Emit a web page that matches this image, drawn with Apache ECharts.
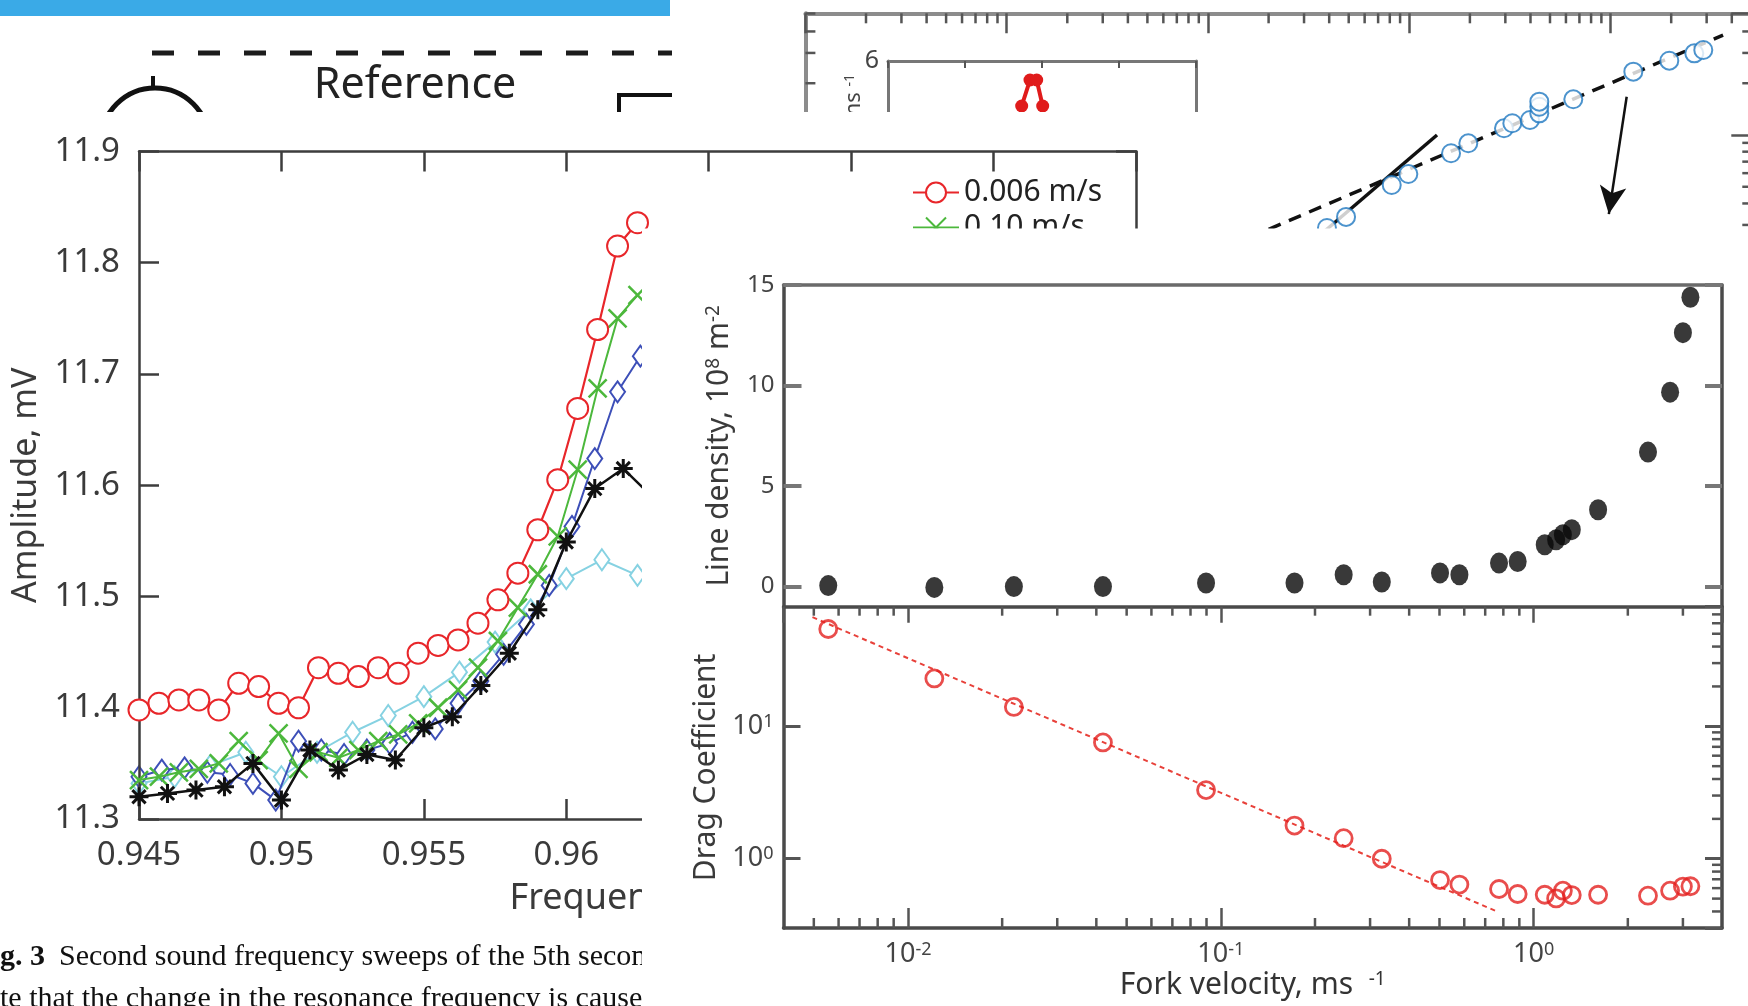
<!DOCTYPE html>
<html>
<head>
<meta charset="utf-8">
<script src="https://cdn.jsdelivr.net/npm/echarts@6/dist/echarts.min.js"></script>
<style>
html,body{margin:0;padding:0;background:#fff;overflow:hidden;}
#c{width:1748px;height:1006px;}
</style>
</head>
<body>
<div id="c"></div>
<script>
// ================= DATA =================
// Amplitude vs frequency panel (5 sweeps)
const freqA = [0.9450,0.9457,0.9464,0.9471,0.9478,0.9485,0.9492,0.9499,0.9506,0.9513,0.9520,0.9527,0.9534,0.9541,0.9548,0.9555,0.9562,0.9569,0.9576,0.9583,0.9590,0.9597,0.9604,0.9611,0.9618,0.9625];
const ampRed = [11.398,11.404,11.407,11.407,11.398,11.422,11.419,11.404,11.400,11.436,11.431,11.428,11.436,11.431,11.449,11.456,11.461,11.476,11.497,11.521,11.560,11.605,11.669,11.740,11.815,11.836];
const ampGreen = [11.335,11.338,11.342,11.345,11.350,11.370,11.353,11.377,11.345,11.360,11.355,11.362,11.370,11.376,11.386,11.400,11.416,11.436,11.460,11.490,11.520,11.554,11.614,11.687,11.750,11.771];
const freqBlue = [0.9450,0.9458,0.9466,0.9474,0.9482,0.9490,0.9498,0.9506,0.9514,0.9522,0.9530,0.9538,0.9546,0.9554,0.9562,0.9570,0.9578,0.9586,0.9594,0.9602,0.9610,0.9618,0.9626];
const ampBlue = [11.338,11.344,11.346,11.342,11.340,11.332,11.317,11.370,11.362,11.358,11.362,11.368,11.378,11.381,11.404,11.424,11.448,11.475,11.510,11.563,11.624,11.684,11.716];
const freqBlack = [0.945,0.946,0.947,0.948,0.949,0.950,0.951,0.952,0.953,0.954,0.955,0.956,0.957,0.958,0.959,0.960,0.961,0.962,0.963];
const ampBlack = [11.320,11.323,11.326,11.329,11.350,11.317,11.362,11.344,11.358,11.353,11.382,11.392,11.420,11.449,11.488,11.549,11.597,11.615,11.590];
const freqCyan = [0.94500,0.94625,0.94750,0.94875,0.95000,0.95125,0.95250,0.95375,0.95500,0.95625,0.95750,0.95875,0.96000,0.96125,0.96250];
const ampCyan = [11.332,11.338,11.348,11.360,11.338,11.360,11.378,11.393,11.410,11.432,11.459,11.488,11.516,11.533,11.519];
const legendNames = ['0.006 m/s','0.10 m/s'];

// Top-right log-log panel
const trVel = [0.390,0.485,0.818,0.989,1.612,1.964,2.954,3.249,3.977,4.424,4.424,4.424,6.527,12.97,19.57,26.05,28.87];
const trVal = [0.288,0.334,0.512,0.593,0.783,0.895,1.094,1.170,1.222,1.337,1.460,1.562,1.613,2.334,2.704,2.985,3.120];
const trDashX = [0.1,36.2];
const trDashY = [0.2,3.81];
const trSolidX = [0.3,1.373];
const trSolidY = [0.218,1.0];
const arrowFrom = [12.02,1.67];
const arrowTo = [9.8,0.347];
const trMinorX = [0.002,0.003,0.004,0.005,0.006,0.007,0.008,0.009,0.02,0.03,0.04,0.05,0.06,0.07,0.08,0.09,0.2,0.3,0.4,0.5,0.6,0.7,0.8,0.9,2,3,4,5,6,7,8,9,20,30,40];
const trMinorY = [0.2,0.3,0.4,0.5,0.6,0.7,0.8,0.9,2,3,4];
// inset
const insetX = [1.736,1.844,1.931,2.009];
const insetY = [5.25,5.683,5.683,5.25];

// Bottom-right panels
const forkVel = [0.00556,0.01214,0.0218,0.042,0.0897,0.172,0.247,0.327,0.502,0.579,0.775,0.889,1.085,1.18,1.24,1.324,1.607,2.32,2.73,3.0,3.17];
const lineDensity = [0.05,-0.04,0.0,0.0,0.18,0.18,0.59,0.23,0.68,0.59,1.17,1.25,2.08,2.33,2.58,2.83,3.82,6.69,9.67,12.63,14.39];
const dragCoef = [54.3,23.0,14.0,7.55,3.30,1.78,1.43,1.0,0.69,0.638,0.591,0.542,0.535,0.502,0.574,0.532,0.535,0.526,0.574,0.616,0.62];
const fitVel = [0.00495,0.754];
const fitDrag = [66.7,0.405];
const shadeRange = [0.004,0.528];
const brMinorX = [0.005,0.006,0.007,0.008,0.009,0.02,0.03,0.04,0.05,0.06,0.07,0.08,0.09,0.2,0.3,0.4,0.5,0.6,0.7,0.8,0.9,2,3];
const brMinorY = [0.4,0.5,0.6,0.7,0.8,0.9,2,3,4,5,6,7,8,9,20,30,40,50,60,70];

// ================= HELPERS =================
const SANS = '"Noto Sans","Open Sans",sans-serif';
const SERIF = '"Liberation Serif","DejaVu Serif",serif';
function pairs(xs, ys){ return xs.map((x,i)=>[x, ys[i]]); }
const starPath = 'path://M5,0L5,10M0,5L10,5M1.5,1.5L8.5,8.5M8.5,1.5L1.5,8.5';
const crossPath = 'path://M0,0L10,10M10,0L0,10';
const noSplit = {show:false};

function tickRenderer(spec){
  return function(params, api){
    const cs = params.coordSys;
    const kind = api.value(2);
    const p = api.coord([api.value(0), api.value(1)]);
    const st = {stroke: spec.color, lineWidth: spec.width};
    const ch = [];
    if (kind === 0){
      if (spec.top) ch.push({type:'line', shape:{x1:p[0], y1:cs.y, x2:p[0], y2:cs.y+spec.top}, style:st});
      if (spec.bottom) ch.push({type:'line', shape:{x1:p[0], y1:cs.y+cs.height, x2:p[0], y2:cs.y+cs.height-spec.bottom}, style:st});
    } else {
      if (spec.left) ch.push({type:'line', shape:{x1:cs.x, y1:p[1], x2:cs.x+spec.left, y2:p[1]}, style:st});
      if (spec.right) ch.push({type:'line', shape:{x1:cs.x+cs.width, y1:p[1], x2:cs.x+cs.width-spec.right, y2:p[1]}, style:st});
    }
    return {type:'group', children: ch};
  };
}
function logSup(v){ return '10{s|' + Math.round(Math.log10(v)) + '}'; }

const mlFrame = '#3d3d3d';
const brFrame = '#4a4a4a';

const chart = echarts.init(document.getElementById('c'), null, {renderer:'canvas', width:1748, height:1006});

const option = {
  backgroundColor:'#ffffff',
  animation:false,
  grid:[
    {left:805.4, top:13.3, width:945.9, height:293.7, zlevel:0, containLabel:false, outerBoundsMode:'none'},
    {left:888, top:61, width:308, height:360, zlevel:0, containLabel:false, outerBoundsMode:'none'},
    {left:139, top:151.5, width:997, height:667.5, zlevel:1, containLabel:false, outerBoundsMode:'none'},
    {left:783.5, top:285, width:938.5, height:321.7, zlevel:2, containLabel:false, outerBoundsMode:'none'},
    {left:783.5, top:606.7, width:938.5, height:321.3, zlevel:2, containLabel:false, outerBoundsMode:'none'}
  ],
  legend:{
    zlevel:1, z:20, data:legendNames, orient:'vertical', left:912, top:175,
    itemWidth:46, itemHeight:25, itemGap:0, padding:0, selectedMode:false,
    textStyle:{fontSize:30, fontFamily:SANS, color:'#222', lineHeight:35}
  },
  xAxis:[
    // 0 top-right top axis
    {gridIndex:0, type:'log', min:0.001, max:50, position:'top', zlevel:0, z:5,
     axisLine:{show:true, onZero:false, lineStyle:{color:'#8c8c8c', width:4}},
     axisTick:{show:true, inside:true, length:20, lineStyle:{color:'#555', width:2.5}},
     axisLabel:{show:false}, splitLine:noSplit},
    // 1 inset top
    {gridIndex:1, type:'value', min:0, max:4, interval:1, position:'top', zlevel:0, z:5,
     axisLine:{show:true, onZero:false, lineStyle:{color:'#777', width:3}},
     axisTick:{show:true, inside:true, length:7, lineStyle:{color:'#555', width:2}},
     axisLabel:{show:false}, splitLine:noSplit},
    // 2 amplitude bottom
    {gridIndex:2, type:'value', min:0.945, max:0.98, interval:0.005, position:'bottom', zlevel:1, z:5,
     name:'Frequency, kHz', nameLocation:'middle', nameGap:62,
     nameTextStyle:{fontSize:36, fontFamily:SANS, color:'#3a3a3a'},
     axisLine:{show:true, onZero:false, lineStyle:{color:mlFrame, width:2.5}},
     axisTick:{show:true, inside:true, length:20, lineStyle:{color:mlFrame, width:2.5}},
     axisLabel:{show:true, fontSize:33, fontFamily:SANS, color:'#3a3a3a', margin:20},
     splitLine:noSplit},
    // 3 amplitude top
    {gridIndex:2, type:'value', min:0.945, max:0.98, interval:0.005, position:'top', zlevel:1, z:5,
     axisLine:{show:true, onZero:false, lineStyle:{color:mlFrame, width:2.5}},
     axisTick:{show:true, inside:true, length:20, lineStyle:{color:mlFrame, width:2.5}},
     axisLabel:{show:false}, splitLine:noSplit},
    // 4 line density bottom (hidden)
    {gridIndex:3, type:'log', min:0.004, max:4, position:'bottom', zlevel:2, z:10,
     axisLine:{show:false, onZero:false}, axisTick:{show:false}, axisLabel:{show:false}, splitLine:noSplit},
    // 5 line density top frame
    {gridIndex:3, type:'log', min:0.004, max:4, position:'top', zlevel:2, z:10,
     axisLine:{show:true, onZero:false, lineStyle:{color:'#6a6a6a', width:3.5}},
     axisTick:{show:false}, axisLabel:{show:false}, splitLine:noSplit},
    // 6 drag bottom
    {gridIndex:4, type:'log', min:0.004, max:4, position:'bottom', zlevel:2, z:10,
     name:'Fork velocity, ms  {s|-1}', nameLocation:'middle', nameGap:42,
     nameTextStyle:{fontSize:30, fontFamily:SANS, color:'#333', rich:{s:{fontSize:19, fontFamily:SANS, color:'#333', verticalAlign:'top'}}},
     axisLine:{show:true, onZero:false, lineStyle:{color:brFrame, width:3.5}},
     axisTick:{show:true, inside:true, length:20, lineStyle:{color:'#555', width:2.5}},
     axisLabel:{show:true, margin:13, fontSize:27, fontFamily:SANS, color:'#444', showMinLabel:false, showMaxLabel:false,
       formatter:logSup, rich:{s:{fontSize:18, fontFamily:SANS, color:'#444', verticalAlign:'top'}}},
     splitLine:noSplit},
    // 7 drag top
    {gridIndex:4, type:'log', min:0.004, max:4, position:'top', zlevel:2, z:10,
     axisLine:{show:true, onZero:false, lineStyle:{color:brFrame, width:3.5}},
     axisTick:{show:true, inside:true, length:16, lineStyle:{color:'#555', width:2.5}},
     axisLabel:{show:false}, splitLine:noSplit}
  ],
  yAxis:[
    // 0 top-right left
    {gridIndex:0, type:'log', min:0.1, max:5.1, position:'left', zlevel:0, z:5,
     axisLine:{show:true, onZero:false, lineStyle:{color:'#8c8c8c', width:4}},
     axisTick:{show:true, inside:true, length:10, lineStyle:{color:'#555', width:2.5}},
     axisLabel:{show:false}, splitLine:noSplit},
    // 1 top-right right
    {gridIndex:0, type:'log', min:0.1, max:5.1, position:'right', zlevel:0, z:5,
     axisLine:{show:true, onZero:false, lineStyle:{color:'#8c8c8c', width:4}},
     axisTick:{show:true, inside:true, length:20, lineStyle:{color:'#555', width:2.5}},
     axisLabel:{show:false}, splitLine:noSplit},
    // 2 inset left
    {gridIndex:1, type:'value', min:0, max:6, interval:2, position:'left', zlevel:0, z:5,
     axisLine:{show:true, onZero:false, lineStyle:{color:'#777', width:3}},
     axisTick:{show:false}, axisLabel:{show:true, fontSize:25, fontFamily:SANS, color:'#444', margin:9},
     splitLine:noSplit},
    // 3 inset right
    {gridIndex:1, type:'value', min:0, max:6, interval:2, position:'right', zlevel:0, z:5,
     axisLine:{show:true, onZero:false, lineStyle:{color:'#777', width:3}},
     axisTick:{show:false}, axisLabel:{show:false}, splitLine:noSplit},
    // 4 amplitude left
    {gridIndex:2, type:'value', min:11.3, max:11.9, interval:0.1, position:'left', zlevel:1, z:5,
     name:'Amplitude, mV', nameLocation:'middle', nameGap:91,
     nameTextStyle:{fontSize:34, fontFamily:SANS, color:'#3a3a3a'},
     axisLine:{show:true, onZero:false, lineStyle:{color:mlFrame, width:2.5}},
     axisTick:{show:true, inside:true, length:20, lineStyle:{color:mlFrame, width:2.5}},
     axisLabel:{show:true, fontSize:33, fontFamily:SANS, color:'#3a3a3a', margin:19},
     splitLine:noSplit},
    // 5 amplitude right
    {gridIndex:2, type:'value', min:11.3, max:11.9, interval:0.1, position:'right', zlevel:1, z:5,
     axisLine:{show:true, onZero:false, lineStyle:{color:mlFrame, width:2.5}},
     axisTick:{show:true, inside:true, length:20, lineStyle:{color:mlFrame, width:2.5}},
     axisLabel:{show:false}, splitLine:noSplit},
    // 6 line density left
    {gridIndex:3, type:'value', min:-1, max:15, splitNumber:3, position:'left', zlevel:2, z:10,
     name:'Line density, 10{s|8} m{s|-2}', nameLocation:'middle', nameGap:49,
     nameTextStyle:{fontSize:30, fontFamily:SANS, color:'#3a3a3a', rich:{s:{fontSize:19, fontFamily:SANS, color:'#3a3a3a', verticalAlign:'top'}}},
     axisLine:{show:true, onZero:false, lineStyle:{color:brFrame, width:3.5}},
     axisTick:{show:true, inside:true, length:18, lineStyle:{color:'#777', width:4}},
     axisLabel:{show:true, fontSize:24, fontFamily:SANS, color:'#444', margin:9, showMinLabel:false},
     splitLine:noSplit},
    // 7 line density right
    {gridIndex:3, type:'value', min:-1, max:15, splitNumber:3, position:'right', zlevel:2, z:10,
     axisLine:{show:true, onZero:false, lineStyle:{color:brFrame, width:3.5}},
     axisTick:{show:true, inside:true, length:17, lineStyle:{color:'#777', width:4}},
     axisLabel:{show:false}, splitLine:noSplit},
    // 8 drag left
    {gridIndex:4, type:'log', min:0.3, max:80, position:'left', zlevel:2, z:10,
     name:'Drag Coefficient', nameLocation:'middle', nameGap:58,
     nameTextStyle:{fontSize:30, fontFamily:SANS, color:'#3a3a3a'},
     axisLine:{show:true, onZero:false, lineStyle:{color:brFrame, width:3.5}},
     axisTick:{show:true, inside:true, length:17, lineStyle:{color:'#555', width:3}},
     axisLabel:{show:true, margin:10, fontSize:27, fontFamily:SANS, color:'#444', showMinLabel:false, showMaxLabel:false,
       formatter:logSup, rich:{s:{fontSize:18, fontFamily:SANS, color:'#444', verticalAlign:'top'}}},
     splitLine:noSplit},
    // 9 drag right
    {gridIndex:4, type:'log', min:0.3, max:80, position:'right', zlevel:2, z:10,
     axisLine:{show:true, onZero:false, lineStyle:{color:brFrame, width:3.5}},
     axisTick:{show:true, inside:true, length:17, lineStyle:{color:'#555', width:3}},
     axisLabel:{show:false}, splitLine:noSplit}
  ],
  graphic:[
    // top-left banner and schematic (bottom layer)
    {type:'rect', zlevel:0, z:1, shape:{x:0, y:0, width:670, height:16}, style:{fill:'#3aaae7'}},
    {type:'line', zlevel:0, z:1, shape:{x1:152, y1:53, x2:672, y2:53}, style:{stroke:'#1c1c1c', lineWidth:5, lineDash:[22,24]}},
    {type:'text', zlevel:0, z:1, x:415, y:86, style:{text:'Reference', fontSize:43, fontFamily:SANS, fill:'#222', align:'center', verticalAlign:'middle'}},
    {type:'circle', zlevel:0, z:1, shape:{cx:155, cy:142, r:54}, style:{fill:'none', stroke:'#111', lineWidth:5}},
    {type:'line', zlevel:0, z:1, shape:{x1:153, y1:76, x2:153, y2:90}, style:{stroke:'#111', lineWidth:4}},
    {type:'polyline', zlevel:0, z:1, shape:{points:[[672,95],[619,95],[619,125]]}, style:{fill:'none', stroke:'#111', lineWidth:4}},
    {type:'text', zlevel:0, z:8, x:854, y:74, rotation:Math.PI/2,
     style:{text:'ms {s|-1}', fontSize:22, fontFamily:SANS, fill:'#444', align:'right', verticalAlign:'middle',
       rich:{s:{fontSize:14, fontFamily:SANS, fill:'#444', verticalAlign:'top'}}}},
    // amplitude panel cover + caption
    {type:'rect', zlevel:1, z:-10, shape:{x:0, y:112, width:1230, height:900}, style:{fill:'#ffffff'}},
    {type:'text', zlevel:1, z:5, x:0, y:957, style:{text:'g. 3', fontSize:30, fontWeight:'bold', fontFamily:SERIF, fill:'#111', verticalAlign:'middle'}},
    {type:'text', zlevel:1, z:5, x:59, y:957, style:{text:'Second sound frequency sweeps of the 5th second', fontSize:30, fontFamily:SERIF, fill:'#111', verticalAlign:'middle'}},
    {type:'text', zlevel:1, z:5, x:0, y:999, style:{text:'te that the change in the resonance frequency is caused', fontSize:30, fontFamily:SERIF, fill:'#111', verticalAlign:'middle'}},
    // bottom-right panel cover
    {type:'rect', zlevel:2, z:-10, shape:{x:642, y:228.5, width:1110, height:780}, style:{fill:'#ffffff'}}
  ],
  series:[
    // ---- top-right ----
    {name:'trDash', type:'line', xAxisIndex:0, yAxisIndex:0, zlevel:0, z:2, silent:true,
     data:pairs(trDashX, trDashY), symbol:'none', lineStyle:{color:'#111', width:3.5, type:[13,9]}},
    {name:'trSolid', type:'line', xAxisIndex:0, yAxisIndex:0, zlevel:0, z:2, silent:true,
     data:pairs(trSolidX, trSolidY), symbol:'none', lineStyle:{color:'#111', width:3.5},
     markLine:{silent:true, animation:false, symbol:['none','arrow'], symbolSize:[20,28], label:{show:false},
       lineStyle:{color:'#111', width:2.5, type:'solid'}, emphasis:{disabled:true},
       data:[[{coord:arrowFrom},{coord:arrowTo}]]}},
    {name:'trPoints', type:'scatter', xAxisIndex:0, yAxisIndex:0, zlevel:0, z:4, silent:true,
     data:pairs(trVel, trVal), symbol:'emptyCircle', symbolSize:18,
     itemStyle:{color:'#1f78c1', borderColor:'#1f78c1', borderWidth:4}},
    {name:'trTicks', type:'custom', xAxisIndex:0, yAxisIndex:0, zlevel:0, z:6, silent:true,
     renderItem:tickRenderer({top:10, left:10, right:9, color:'#555', width:2.5}),
     data:trMinorX.map(v=>[v,1,0]).concat(trMinorY.map(v=>[1,v,1]))},
    {name:'inset', type:'line', xAxisIndex:1, yAxisIndex:2, zlevel:0, z:4, silent:true,
     data:pairs(insetX, insetY), symbol:'circle', symbolSize:13,
     itemStyle:{color:'#e01b1b'}, lineStyle:{color:'#e01b1b', width:4}},
    // ---- amplitude panel ----
    {name:'cyan', type:'line', xAxisIndex:2, yAxisIndex:4, zlevel:1, z:3, silent:true,
     data:pairs(freqCyan, ampCyan), symbol:'emptyDiamond', symbolSize:[15,21],
     itemStyle:{color:'#86d2e2', borderColor:'#86d2e2', borderWidth:2}, lineStyle:{color:'#86d2e2', width:2}},
    {name:'blue', type:'line', xAxisIndex:2, yAxisIndex:4, zlevel:1, z:4, silent:true,
     data:pairs(freqBlue, ampBlue), symbol:'emptyDiamond', symbolSize:[15,21],
     itemStyle:{color:'#3d4fb8', borderColor:'#3d4fb8', borderWidth:2}, lineStyle:{color:'#3d4fb8', width:2}},
    {name:'0.10 m/s', type:'line', xAxisIndex:2, yAxisIndex:4, zlevel:1, z:5, silent:true,
     data:pairs(freqA, ampGreen), symbol:crossPath, symbolSize:18, symbolKeepAspect:true,
     itemStyle:{color:'#4cb83c', borderColor:'#4cb83c', borderWidth:2.5}, lineStyle:{color:'#4cb83c', width:2}},
    {name:'black', type:'line', xAxisIndex:2, yAxisIndex:4, zlevel:1, z:6, silent:true,
     data:pairs(freqBlack, ampBlack), symbol:starPath, symbolSize:19, symbolKeepAspect:true,
     itemStyle:{color:'#111', borderColor:'#111', borderWidth:3}, lineStyle:{color:'#111', width:2.5}},
    {name:'0.006 m/s', type:'line', xAxisIndex:2, yAxisIndex:4, zlevel:1, z:7, silent:true,
     data:pairs(freqA, ampRed), symbol:'emptyCircle', symbolSize:21,
     itemStyle:{color:'#e8262a', borderColor:'#e8262a', borderWidth:2.2}, lineStyle:{color:'#e8262a', width:2.2}},
    // ---- line density ----
    {name:'shadeB1', type:'line', xAxisIndex:4, yAxisIndex:6, zlevel:2, z:1, silent:true, data:[],
     markArea:{silent:true, itemStyle:{color:'#e8e8e8'}, data:[[{xAxis:shadeRange[0]},{xAxis:shadeRange[1]}]]}},
    {name:'lineDensity', type:'scatter', xAxisIndex:4, yAxisIndex:6, zlevel:2, z:4, silent:true,
     data:pairs(forkVel, lineDensity), symbol:'circle', symbolSize:[18,21], itemStyle:{color:'#080808'}},
    // ---- drag coefficient ----
    {name:'shadeB2', type:'line', xAxisIndex:6, yAxisIndex:8, zlevel:2, z:1, silent:true, data:[],
     markArea:{silent:true, itemStyle:{color:'#e8e8e8'}, data:[[{xAxis:shadeRange[0]},{xAxis:shadeRange[1]}]]}},
    {name:'fit', type:'line', xAxisIndex:6, yAxisIndex:8, zlevel:2, z:3, silent:true,
     data:pairs(fitVel, fitDrag), symbol:'none', lineStyle:{color:'#e8413a', width:2, type:[5,4]}},
    {name:'drag', type:'scatter', xAxisIndex:6, yAxisIndex:8, zlevel:2, z:4, silent:true,
     data:pairs(forkVel, dragCoef), symbol:'circle', symbolSize:17,
     itemStyle:{color:'rgba(0,0,0,0)', borderColor:'#e3201f', borderWidth:2.8}},
    {name:'brTicks', type:'custom', xAxisIndex:6, yAxisIndex:8, zlevel:2, z:12, silent:true,
     renderItem:tickRenderer({top:9, bottom:10, right:10, color:'#555', width:2.5}),
     data:brMinorX.map(v=>[v,1,0]).concat(brMinorY.map(v=>[0.1,v,1]))}
  ]
};
chart.setOption(option);
</script>
</body>
</html>
